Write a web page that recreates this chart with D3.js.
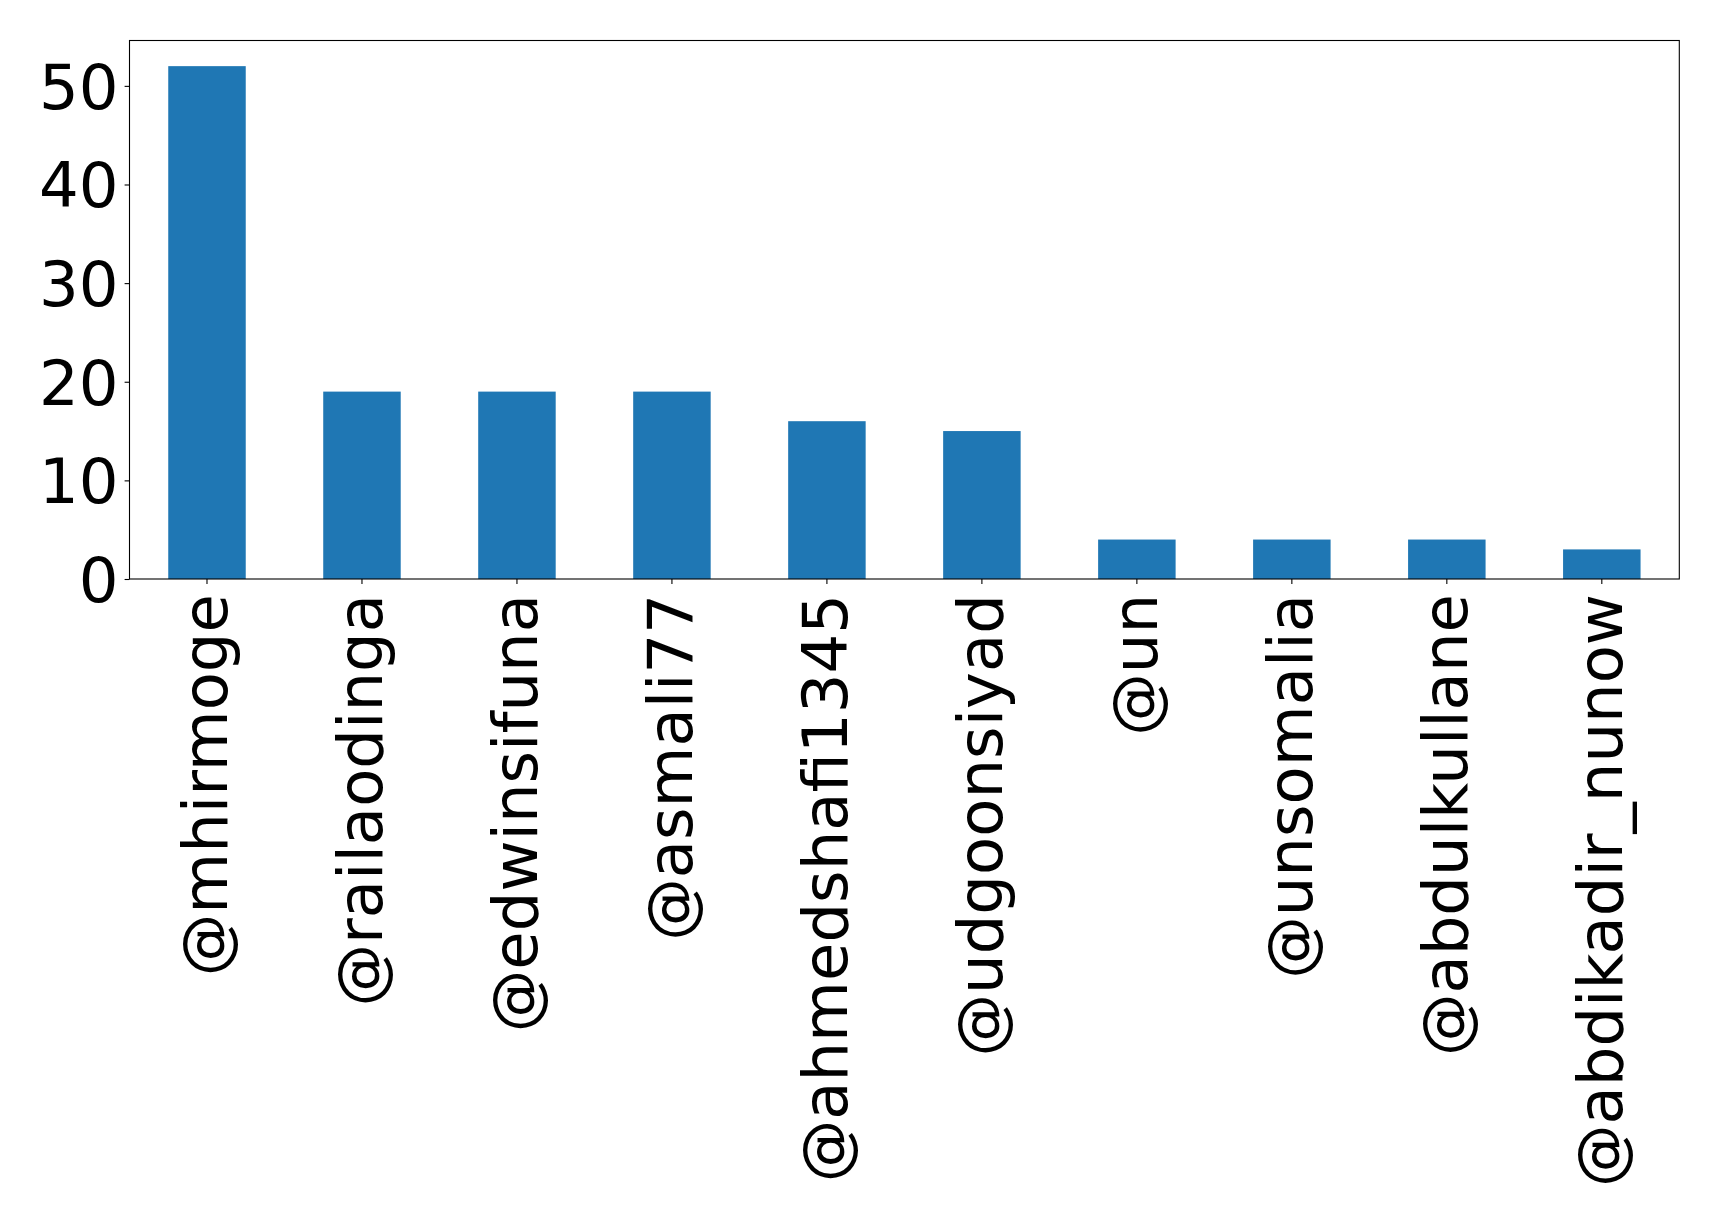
<!DOCTYPE html>
<html><head><meta charset="utf-8">
<script src="https://cdn.jsdelivr.net/npm/d3@7"></script>
<style>body{margin:0;background:#fff}svg{display:block}</style>
</head><body>
<script>
const categories = ["@mhirmoge","@railaodinga","@edwinsifuna","@asmali77","@ahmedshafi1345","@udgoonsiyad","@un","@unsomalia","@abdulkullane","@abdikadir_nunow"];
const values = [52,19,19,19,16,15,4,4,4,3];
const yTicks = [0,10,20,30,40,50];

const W = 1719, H = 1221;
const m = {left:129.5, right:W-1679.3, top:40.5, bottom:H-579};
const svg = d3.select("body").append("svg").attr("width",W).attr("height",H);
const iw = W-m.left-m.right, ih = H-m.top-m.bottom;
const g = svg.append("g").attr("transform",`translate(${m.left},${m.top})`);

const x = d3.scaleBand().domain(categories).range([0,iw]).paddingInner(0.5).paddingOuter(0.25);
const y = d3.scaleLinear().domain([0, d3.max(values)*1.05]).range([ih,0]);

g.selectAll("rect.bar").data(values).join("rect").attr("class","bar")
  .attr("x",(d,i)=>x(categories[i])).attr("width",x.bandwidth())
  .attr("y",d=>y(d)).attr("height",d=>ih-y(d)).attr("fill","#1f77b4");

const font = "DejaVu Sans";
const yAxis = g.append("g").call(d3.axisLeft(y).tickValues(yTicks).tickSize(4.9).tickPadding(6).tickFormat(d3.format("d")));
yAxis.select(".domain").remove();
yAxis.selectAll("line").attr("stroke","#000").attr("stroke-width",1.1);
yAxis.selectAll("text").attr("font-family",font).attr("font-size",62.5).attr("fill","#000").attr("dy","0.36em");

const xAxis = g.append("g").attr("transform",`translate(0,${ih})`).call(d3.axisBottom(x).tickSize(4.9).tickPadding(4.9));
xAxis.select(".domain").remove();
xAxis.selectAll("line").attr("stroke","#000").attr("stroke-width",1.1);
xAxis.selectAll("text").attr("font-family",font).attr("font-size",62.5).attr("fill","#000")
  .attr("text-anchor","end").attr("transform","rotate(-90)")
  .attr("x",-15).attr("y",0).attr("dy","0.32em");

g.append("rect").attr("x",0).attr("y",0).attr("width",iw).attr("height",ih)
  .attr("fill","none").attr("stroke","#000").attr("stroke-width",1.1);
</script>
</body></html>
